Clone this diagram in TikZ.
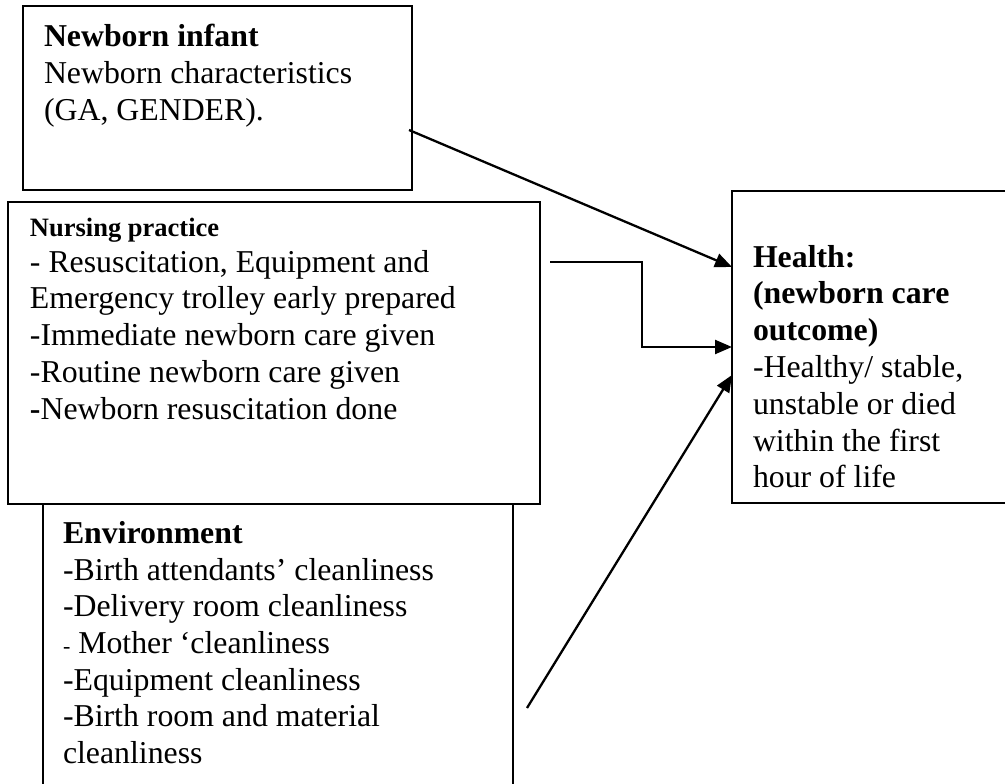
\documentclass[tikz,border=0pt]{standalone}
\usepackage{fontspec}
\setmainfont{Liberation Serif}
\usetikzlibrary{arrows.meta,calc}
\begin{document}
\begin{tikzpicture}[x=1pt,y=-1pt,
  boxnode/.style={draw=black,line width=1.7pt,rectangle,anchor=north west,inner sep=0pt,outer sep=0pt},
  txt/.style={anchor=base west,inner sep=0pt,outer sep=0pt,font=\fontsize{31.8pt}{36.8pt}\selectfont},
  smallbold/.style={anchor=base west,inner sep=0pt,outer sep=0pt,font=\fontsize{26.5pt}{30.5pt}\selectfont\bfseries},
  arr/.style={draw=black,line width=2.3pt,-{Triangle[length=17pt,width=14pt]}}]
\useasboundingbox (0,0) rectangle (1005,784);
% boxes
\node[boxnode,minimum width=389pt,minimum height=184pt] (nb) at (23,6) {};
\node[boxnode,minimum width=532pt,minimum height=302pt] (np) at (8,202) {};
\node[boxnode,minimum width=470pt,minimum height=310pt] (env) at (43,504) {};
\node[boxnode,minimum width=290pt,minimum height=312pt] (hl) at (732,191) {};
% newborn infant text
\node[txt,font=\fontsize{31.8pt}{36.8pt}\selectfont\bfseries] (nb1) at (44,47) {Newborn infant};
\node[txt] (nb2) at (44,83.8) {Newborn characteristics};
\node[txt] (nb3) at (44,120.6) {(GA, GENDER).};
% nursing practice text
\node[smallbold] (np0) at (30,236) {Nursing practice};
\node[txt] (np1) at (30,272) {- Resuscitation, Equipment and};
\node[txt] (np2) at (30,308.8) {Emergency trolley early prepared};
\node[txt] (np3) at (30,345.6) {-Immediate newborn care given};
\node[txt] (np4) at (30,382.4) {-Routine newborn care given};
\node[txt] (np5) at (30,419.2) {\textbf{-}Newborn resuscitation done};
% environment text
\node[txt,font=\fontsize{31.8pt}{36.8pt}\selectfont\bfseries] (en0) at (63,543) {Environment};
\node[txt] (en1) at (63,580) {-Birth attendants’ cleanliness};
\node[txt] (en2) at (63,616.7) {-Delivery room cleanliness};
\node[txt] (en3) at (63,653.4) {{\fontsize{22pt}{22pt}\selectfont -} Mother ‘cleanliness};
\node[txt] (en4) at (63,690.1) {-Equipment cleanliness};
\node[txt] (en5) at (63,726.8) {-Birth room and material};
\node[txt] (en6) at (63,763.5) {cleanliness};
% health text
\node[txt,font=\fontsize{31.8pt}{36.8pt}\selectfont\bfseries] (h1) at (753,267) {Health:};
\node[txt,font=\fontsize{31.8pt}{36.8pt}\selectfont\bfseries] (h2) at (753,303.8) {(newborn care};
\node[txt,font=\fontsize{31.8pt}{36.8pt}\selectfont\bfseries] (h3) at (753,340.6) {outcome)};
\node[txt] (h4) at (753,377.4) {-Healthy/ stable,};
\node[txt] (h5) at (753,414.2) {unstable or died};
\node[txt] (h6) at (753,451) {within the first};
\node[txt] (h7) at (753,487.8) {hour of life};
% connectors
\draw[arr] ([xshift=-3pt,yshift=-32pt]nb.east) -- ([yshift=80pt]hl.west);
\draw[arr] ([xshift=10pt,yshift=91pt]np.east) -- ++(92,0) |- (hl.west);
\coordinate (envstart) at (527,708);
\draw[arr] (envstart) -- ([yshift=-28pt]hl.west);
\end{tikzpicture}
\end{document}
